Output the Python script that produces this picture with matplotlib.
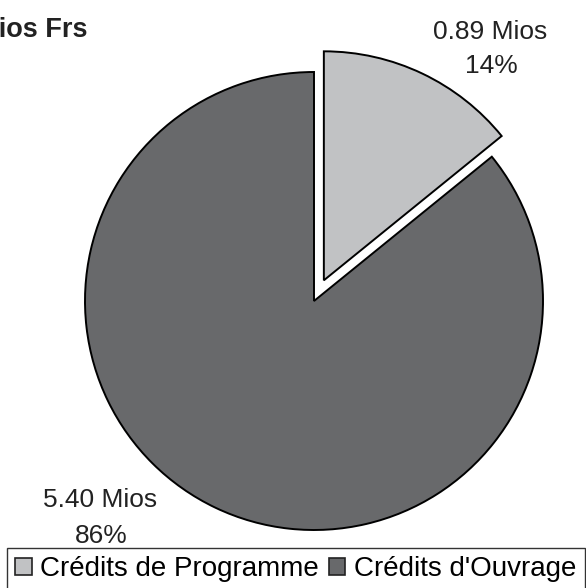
import matplotlib.pyplot as plt
from matplotlib.patches import Patch

# Data
categories = ["Crédits de Programme", "Crédits d'Ouvrage"]
values = [0.89, 5.40]
value_labels = ["0.89 Mios", "5.40 Mios"]
colors = ['#c1c2c4', '#68696b']

plt.rcParams['font.family'] = ['Liberation Sans', 'DejaVu Sans']

W, H = 586, 588
fig = plt.figure(figsize=(W / 100, H / 100), dpi=100)
ax = fig.add_axes([0, 0, 1, 1])

# pie centre in pixels and radius
cx, cy, rad = 314, 301, 229

total = sum(values)
wedges, _ = ax.pie(values, colors=colors, startangle=90, counterclock=False,
                   explode=[0.1, 0], radius=1,
                   wedgeprops=dict(edgecolor='black', linewidth=1.4))

def px(x, y):
    return (x - cx) / rad, (cy - y) / rad

# labels: value line and percent line (baselines in pixels)
pcts = [f"{round(v / total * 100):d}%" for v in values]
label_pos = [((490, 39), (491, 73)), ((100, 507), (101, 543))]
for (p1, p2), vl, pc in zip(label_pos, value_labels, pcts):
    ax.text(*px(*p1), vl, ha='center', va='baseline', fontsize=19, color='#222222')
    ax.text(*px(*p2), pc, ha='center', va='baseline', fontsize=19, color='#222222')

ax.set_xlim(-cx / rad, (W - cx) / rad)
ax.set_ylim(-(H - cy) / rad, cy / rad)
ax.set_aspect('auto')
ax.axis('off')

# title (partly cut off at the left edge, as in the source)
fig.text(87 / W, 1 - 37 / H, "Mios Frs", ha='right', va='baseline',
         fontsize=19.5, fontweight='bold', color='#222222')

handles = [Patch(facecolor=c, edgecolor='#222222', linewidth=1.2) for c in colors]
leg = fig.legend(handles, categories, loc='upper left',
                 bbox_to_anchor=(7 / W, 1 - 548 / H), ncol=2,
                 fontsize=20, frameon=True, fancybox=False,
                 handlelength=0.6, handleheight=0.6, handletextpad=0.3,
                 columnspacing=0.35, borderpad=0.3, borderaxespad=0)
leg.get_frame().set_edgecolor('black')
leg.get_frame().set_linewidth(1.0)

fig.savefig('out.png', dpi=100, facecolor='white')
